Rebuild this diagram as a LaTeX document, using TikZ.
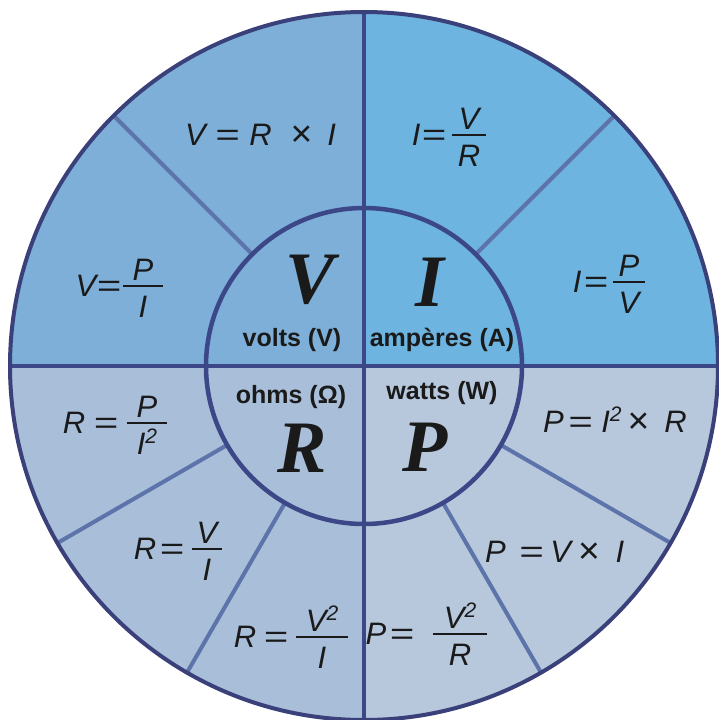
\documentclass[tikz,border=0pt]{standalone}
\usepackage{fontspec}
\usepackage{graphicx}
\setmainfont{Liberation Sans}
\newfontfamily\bigserif{Liberation Serif}
\usetikzlibrary{calc}
\definecolor{ulc}{HTML}{7DAFD8}
\definecolor{urc}{HTML}{6DB4E0}
\definecolor{llc}{HTML}{A8BED9}
\definecolor{lrc}{HTML}{B7C7DC}
\definecolor{rimc}{HTML}{3A4079}
\definecolor{mainln}{HTML}{3C4788}
\definecolor{divln}{HTML}{5C74AA}
\definecolor{inkc}{HTML}{1A1A1A}
\tikzset{
  ft/.style={font=\fontsize{31}{36}\selectfont\itshape, text=inkc, inner sep=0pt},
  unit/.style={font=\fontsize{25}{30}\selectfont\bfseries, text=inkc, inner sep=0pt},
  bigl/.style={font=\fontsize{74}{80}\selectfont\bigserif\bfseries\itshape, text=inkc, inner sep=0pt},
  fbar/.style={draw=inkc, line width=1.8pt},
  rim/.style={draw=rimc, line width=4pt},
  mainline/.style={draw=mainln, line width=4.5pt},
  divider/.style={draw=divln, line width=4pt},
}
\newcommand\sq{\raisebox{11pt}{\fontsize{21}{21}\selectfont 2}}
\newcommand\eqs{\scalebox{1.35}[1]{=}}
\newcommand\tms{\raisebox{-1.5pt}{\scalebox{1.2}{\upshape ×}}}
% #1 name, #2 lhs, #3 lhs east x, #4 bar centre x, #5 bar y, #6 num, #7 den, #8 half width
\newcommand\eqfrac[8]{%
  \node[ft,anchor=base] (#1num) at (#4,#5-6) {#6};
  \node[ft,anchor=base] (#1den) at (#4,#5+31) {#7};
  \coordinate (#1a) at (#4-#8,#5);
  \coordinate (#1b) at (#4+#8,#5);
  \draw[fbar] (#1a) -- (#1b);
  \node[ft,anchor=base east] (#1lhs) at (#3,#5+10) {#2};
}
\begin{document}
\begin{tikzpicture}[x=1pt,y=-1pt]
\useasboundingbox (0,0) rectangle (719,720);
\coordinate (O) at (364,366);
\def\Ro{354pt}
\def\Ri{158pt}
% quadrant fills
\fill[ulc] (O) -- ++(180:\Ro) arc[start angle=180,end angle=90,radius=\Ro] -- cycle;
\fill[urc] (O) -- ++(90:\Ro) arc[start angle=90,end angle=0,radius=\Ro] -- cycle;
\fill[llc] (O) -- ++(270:\Ro) arc[start angle=270,end angle=180,radius=\Ro] -- cycle;
\fill[lrc] (O) -- ++(0:\Ro) arc[start angle=0,end angle=-90,radius=\Ro] -- cycle;
% radial dividers
\foreach \a in {135,45,210,240,300,330}{
  \draw[divider] ($(O)+(\a:\Ri)$) -- ($(O)+(\a:\Ro)$);
}
% diameters
\draw[mainline] ($(O)+(90:\Ro)$) -- ($(O)+(270:\Ro)$);
\draw[mainline] ($(O)+(180:\Ro)$) -- ($(O)+(0:\Ro)$);
% inner circle
\draw[mainline] (O) circle[radius=\Ri];
% rim
\draw[rim] (O) circle[radius=\Ro];

% centre letters and units
\node[bigl] (bigV) at (310,280) {V};
\node[bigl] (bigI) at (430,282) {I};
\node[bigl] (bigR) at (302,448) {R};
\node[bigl] (bigP) at (425,447) {P};
\node[unit] (uV) at (292,340) {volts (V)};
\node[unit] (uA) at (442,340) {ampères (A)};
\node[unit] (uO) at (291,397) {ohms (Ω)};
\node[unit] (uW) at (442,393) {watts (W)};

% inline formulas
\node[ft,anchor=base west] (fVRI) at (185,145) {V\hspace{9pt}\eqs\hspace{10pt}R\hspace{19pt}\tms\hspace{15pt}I};
\node[ft,anchor=base west] (fPIR) at (543,432) {P\hspace{4pt}\eqs\hspace{9pt}I\sq\hspace{6pt}\tms\hspace{15pt}R};
\node[ft,anchor=base west] (fPVI) at (485,562) {P\hspace{13pt}\eqs\hspace{7pt}V\hspace{7pt}\tms\hspace{16pt}I};

% fractions
\eqfrac{iVR}{I\hspace{1pt}\eqs}{446}{469}{135}{V}{R}{17}
\eqfrac{iPV}{I\hspace{2pt}\eqs}{608}{629}{282}{P}{V}{16}
\eqfrac{vPI}{V\eqs}{121}{143}{286}{P}{I}{20}
\eqfrac{rPI}{R\hspace{8pt}\eqs}{118}{147}{423}{P}{I\sq}{20}
\eqfrac{rVI}{R\hspace{3pt}\eqs}{184}{207}{549}{V}{I}{15}
\eqfrac{rVVI}{R\hspace{7pt}\eqs}{288}{322}{637}{V\sq}{I}{26}
\eqfrac{pVVR}{P\hspace{3pt}\eqs}{414}{460}{634}{V\sq}{R}{27}
\end{tikzpicture}
\end{document}
